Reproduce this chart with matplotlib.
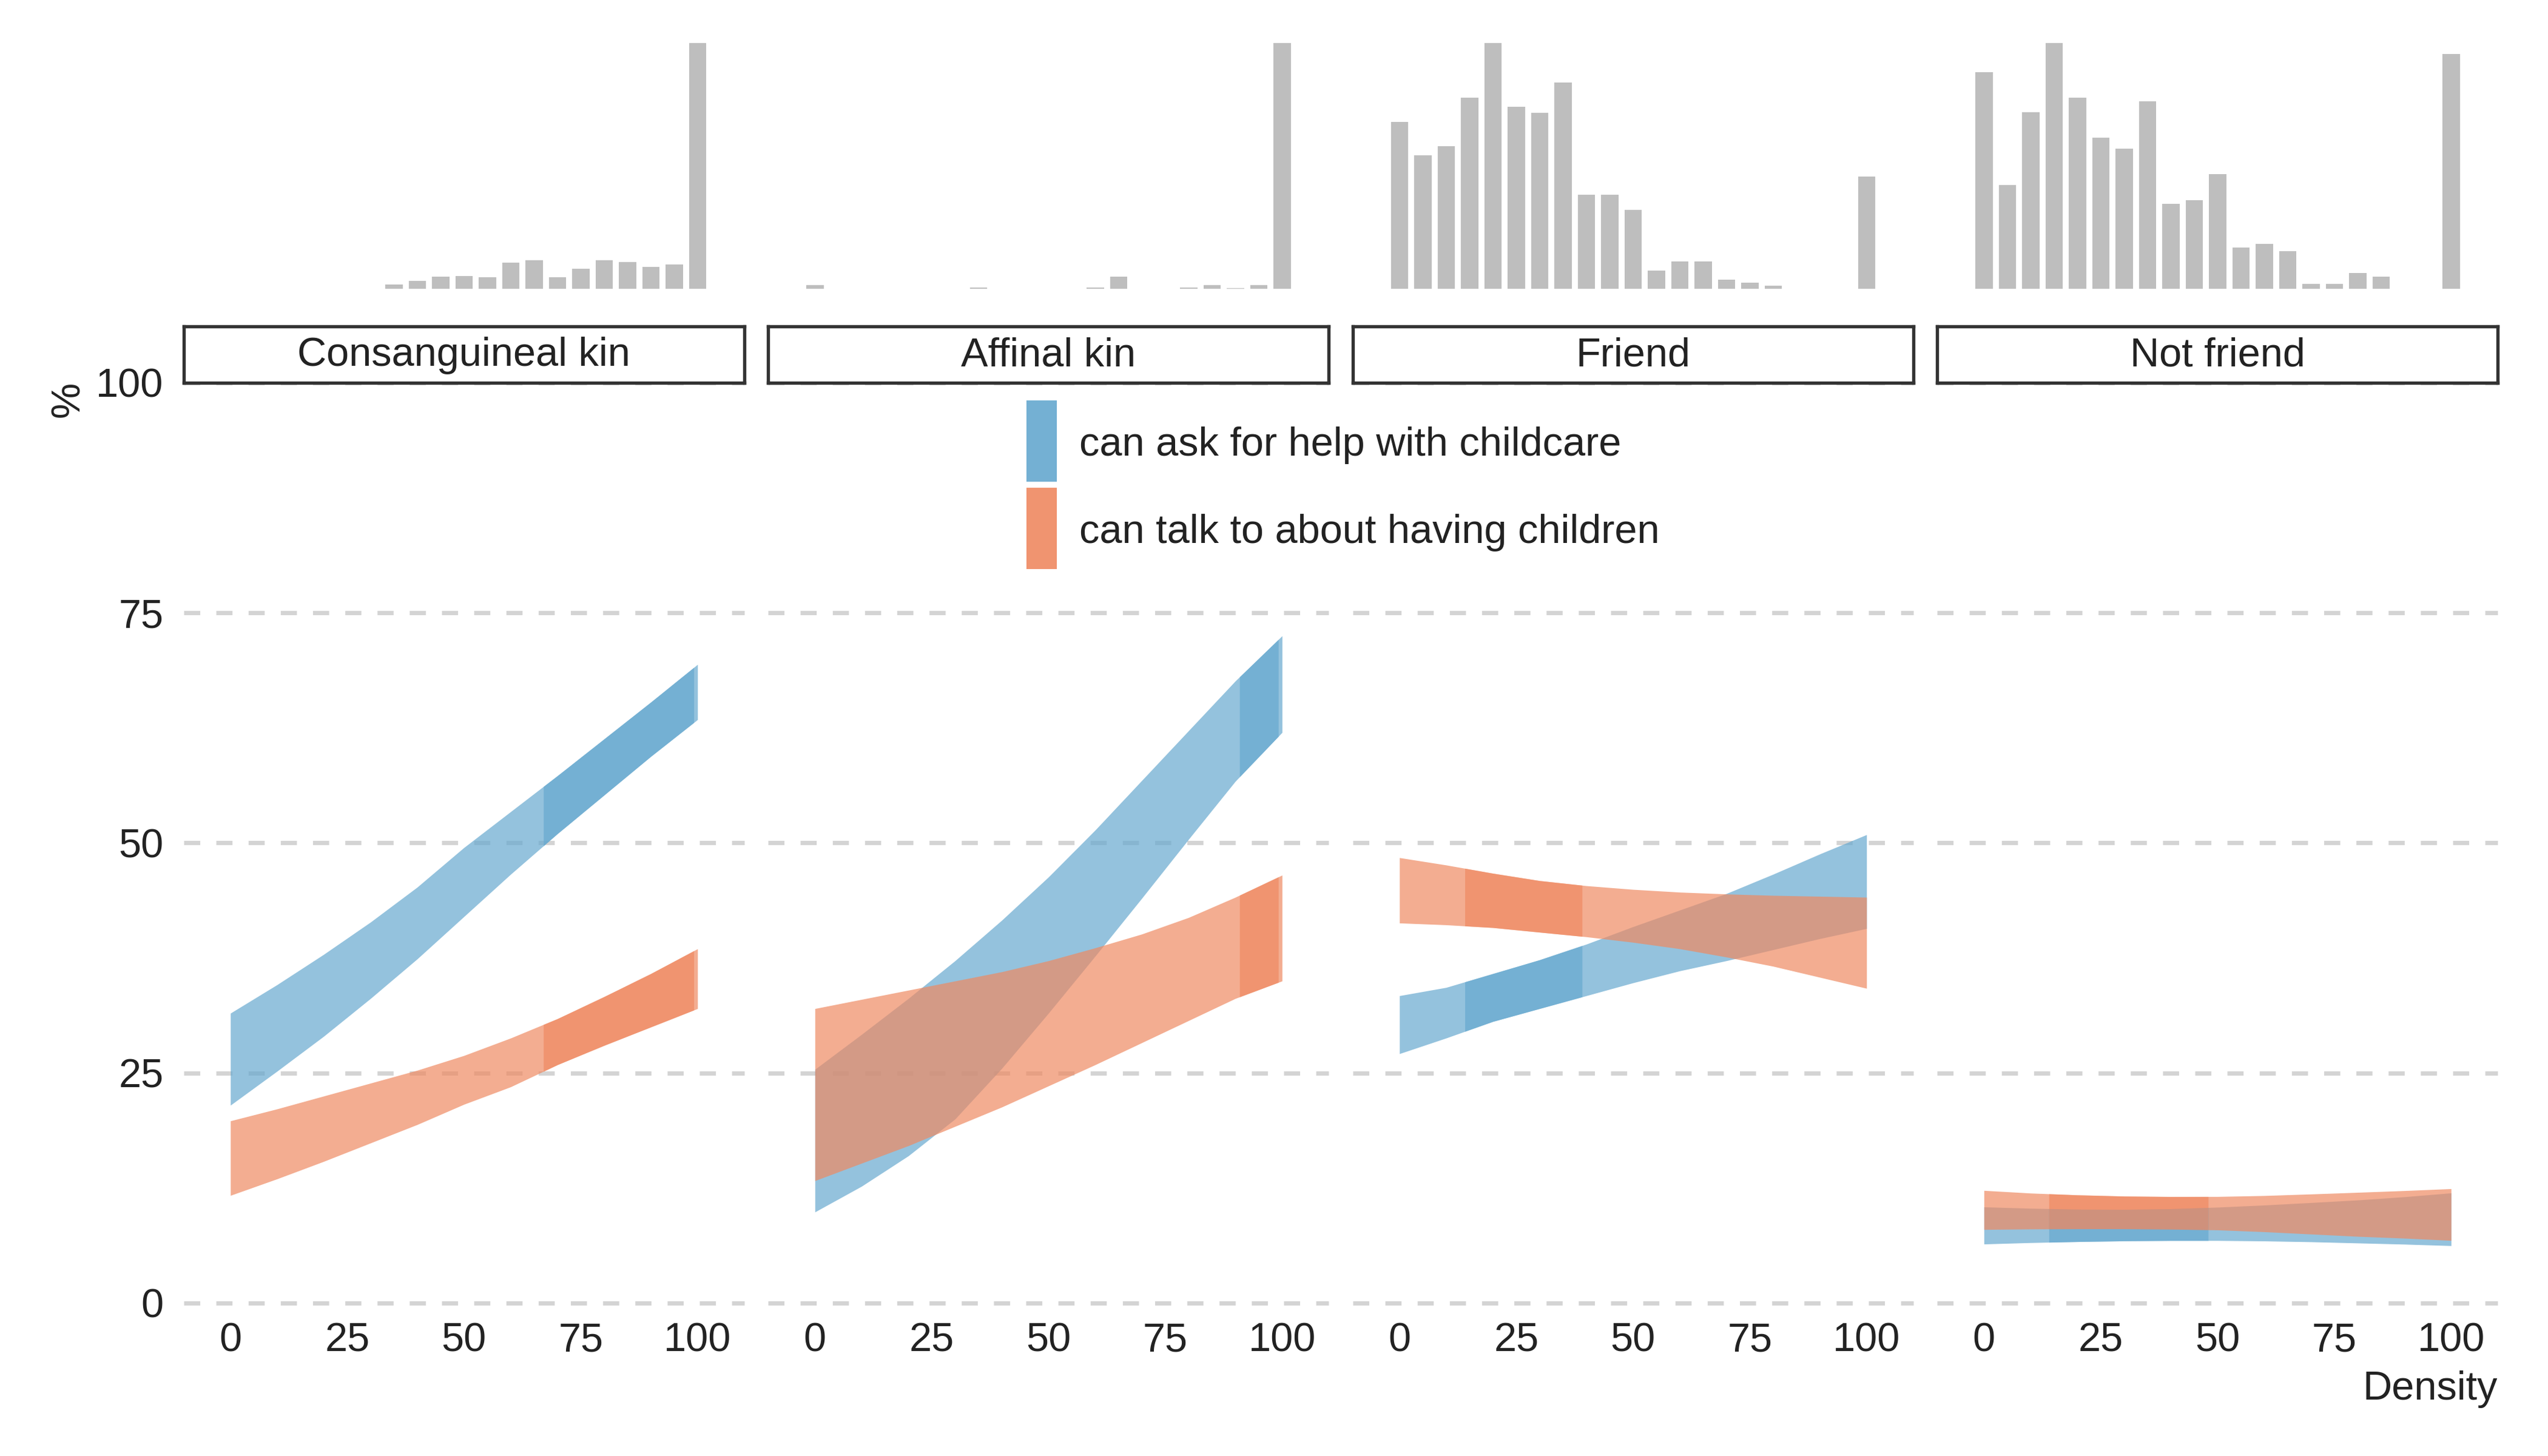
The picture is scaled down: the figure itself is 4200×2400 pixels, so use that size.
import numpy as np
import matplotlib
matplotlib.use("Agg")
import matplotlib.pyplot as plt
from matplotlib.patches import Rectangle

plt.rcParams['font.family'] = ['Liberation Sans', 'DejaVu Sans']
plt.rcParams['text.color'] = '#222222'

# ---------------- data ----------------
categories = ['Consanguineal kin', 'Affinal kin', 'Friend', 'Not friend']
series_labels = ['can ask for help with childcare', 'can talk to about having children']

density = [0, 10, 20, 30, 40, 50, 60, 70, 80, 90, 100]

# "can ask for help with childcare" (%), lower / upper band per category
ask_lower = [
    [21.5, 25.2, 29.0, 33.1, 37.4, 42.0, 46.6, 51.0, 55.2, 59.4, 63.4],
    [9.9, 12.7, 16.0, 20.0, 25.5, 31.5, 37.7, 44.0, 50.4, 56.7, 62.0],
    [27.1, 28.8, 30.6, 32.0, 33.4, 34.8, 36.1, 37.2, 38.4, 39.6, 40.7],
    [6.42, 6.57, 6.68, 6.76, 6.80, 6.80, 6.75, 6.66, 6.53, 6.40, 6.24],
]
ask_upper = [
    [31.5, 34.6, 37.9, 41.4, 45.2, 49.5, 53.4, 57.3, 61.3, 65.3, 69.4],
    [25.4, 29.2, 33.1, 37.2, 41.6, 46.3, 51.4, 56.8, 62.2, 67.6, 72.5],
    [33.4, 34.3, 35.8, 37.3, 39.0, 40.9, 42.7, 44.5, 46.6, 48.8, 50.9],
    [10.45, 10.30, 10.20, 10.18, 10.25, 10.42, 10.65, 10.92, 11.20, 11.55, 11.97],
]
# "can talk to about having children" (%)
talk_lower = [
    [11.7, 13.5, 15.4, 17.4, 19.4, 21.6, 23.5, 25.9, 28.0, 30.0, 32.0],
    [13.3, 15.2, 17.1, 19.2, 21.3, 23.6, 25.9, 28.3, 30.7, 33.1, 35.0],
    [41.3, 41.1, 40.8, 40.3, 39.8, 39.2, 38.5, 37.6, 36.6, 35.4, 34.2],
    [8.00, 8.05, 8.07, 8.07, 8.03, 7.95, 7.75, 7.50, 7.25, 7.05, 6.81],
]
talk_upper = [
    [19.8, 21.1, 22.5, 23.9, 25.3, 26.9, 28.8, 30.9, 33.3, 35.8, 38.5],
    [32.0, 33.0, 34.0, 35.0, 36.0, 37.2, 38.6, 40.1, 41.9, 44.1, 46.5],
    [48.4, 47.6, 46.7, 45.9, 45.35, 44.95, 44.65, 44.45, 44.3, 44.2, 44.1],
    [12.24, 11.95, 11.75, 11.62, 11.57, 11.58, 11.68, 11.85, 12.03, 12.22, 12.43],
]

# highlighted (darker) density range per category
dark_start = [67.0, 90.9, 14.0, 13.9]
dark_end = [99.2, 99.2, 39.1, 48.0]

# histogram of observed density (relative height, % of tallest bar)
hist_bins = [0, 5, 10, 15, 20, 25, 30, 35, 40, 45, 50, 55, 60, 65, 70, 75, 80, 85, 90, 95, 100]
hist_heights = [
    [0, 0, 0, 0, 0, 0, 0, 1.7, 3.2, 4.9, 5.2, 4.7, 10.6, 11.6, 4.7, 8.1, 11.6, 10.9, 8.9, 9.9, 100],
    [1.5, 0, 0, 0, 0, 0, 0, 0.5, 0, 0, 0, 0, 0.5, 4.9, 0, 0, 0.5, 1.5, 0.25, 1.5, 100],
    [67.9, 54.3, 58.0, 77.8, 100, 74.1, 71.6, 84.0, 38.3, 38.3, 32.1, 7.4, 11.1, 11.1, 3.7, 2.5, 1.2, 0, 0, 0, 45.7],
    [88.1, 42.2, 71.9, 100, 77.8, 61.5, 57.0, 76.3, 34.6, 36.0, 46.7, 16.8, 18.3, 15.3, 2.0, 2.0, 6.4, 4.9, 0, 0, 95.6],
]

x_ticks = [0, 25, 50, 75, 100]
y_ticks = [0, 25, 50, 75, 100]

# ---------------- style ----------------
blue = '#67a9cf'
orange = '#ef8a62'
alpha = 0.7
grid_col = '#d4d4d4'
txt_col = '#222222'
fs = 16

fig = plt.figure(figsize=(14, 8), dpi=300)

lefts = [0.0721, 0.3015, 0.5309, 0.7603]
pw = 0.2200
main_b, main_t = 0.105, 0.7371
strip_b, strip_t = 0.7371, 0.7758
hist_b, hist_t = 0.8017, 0.9704

x = np.array(density, dtype=float)

for i, cat in enumerate(categories):
    ax = fig.add_axes([lefts[i], main_b, pw, main_t - main_b])
    ax.set_xlim(-10, 110)
    ax.set_ylim(0, 100)
    for s in ax.spines.values():
        s.set_visible(False)
    for yv in y_ticks:
        ax.axhline(yv, color=grid_col, lw=1.7, dashes=(3.75, 3.75), zorder=0, clip_on=False)

    series = [
        (np.array(ask_lower[i]), np.array(ask_upper[i]), blue),
        (np.array(talk_lower[i]), np.array(talk_upper[i]), orange),
    ]
    # full ribbons
    for lo, hi, col in series:
        ax.fill_between(x, lo, hi, color=col, alpha=alpha, lw=0, zorder=2)
    # darker highlighted range
    xs = np.concatenate([[dark_start[i]], x[(x > dark_start[i]) & (x < dark_end[i])], [dark_end[i]]])
    for lo, hi, col in series:
        ax.fill_between(xs, np.interp(xs, x, lo), np.interp(xs, x, hi),
                        color=col, alpha=alpha, lw=0, zorder=3)

    ax.set_xticks(x_ticks)
    ax.set_xticklabels([str(v) for v in x_ticks])
    ax.set_yticks(y_ticks)
    if i == 0:
        ax.set_yticklabels([str(v) for v in y_ticks])
    else:
        ax.set_yticklabels([])
    ax.tick_params(axis='both', length=0, labelsize=fs, colors=txt_col)
    ax.tick_params(axis='y', pad=8)
    ax.tick_params(axis='x', pad=7.5)

    # strip
    sax = fig.add_axes([lefts[i], strip_b, pw, strip_t - strip_b])
    sax.set_xticks([])
    sax.set_yticks([])
    for s in sax.spines.values():
        s.set_linewidth(1.3)
        s.set_color('#333333')
    sax.text(0.5, 0.48, cat, ha='center', va='center', fontsize=fs, color=txt_col,
             transform=sax.transAxes)

    # histogram
    hax = fig.add_axes([lefts[i], hist_b, pw, hist_t - hist_b])
    hax.bar(hist_bins, hist_heights[i], width=3.7, color='#bebebe', lw=0)
    hax.set_xlim(-10, 110)
    hax.set_ylim(0, max(hist_heights[i]))
    hax.axis('off')

# axis titles
fig.text(0.031, 0.738, '%', rotation=90, rotation_mode='anchor', ha='right', va='baseline',
         fontsize=fs, color=txt_col)
fig.text(lefts[3] + pw, 0.0388, 'Density', ha='right', va='baseline', fontsize=fs, color=txt_col)

# legend
key_x, key_w = 0.4029, 0.0119
key_h = 0.0558
key_bottoms = [0.6692, 0.6092]
for col, lab, kb in zip([blue, orange], series_labels, key_bottoms):
    for _ in range(2):
        fig.add_artist(Rectangle((key_x, kb), key_w, key_h, transform=fig.transFigure,
                                 facecolor=col, alpha=alpha, lw=0))
    fig.text(0.4235, kb + key_h / 2 - 0.003, lab, ha='left', va='center', fontsize=fs,
             color=txt_col)

fig.savefig('out.png', dpi=300, facecolor='white')
